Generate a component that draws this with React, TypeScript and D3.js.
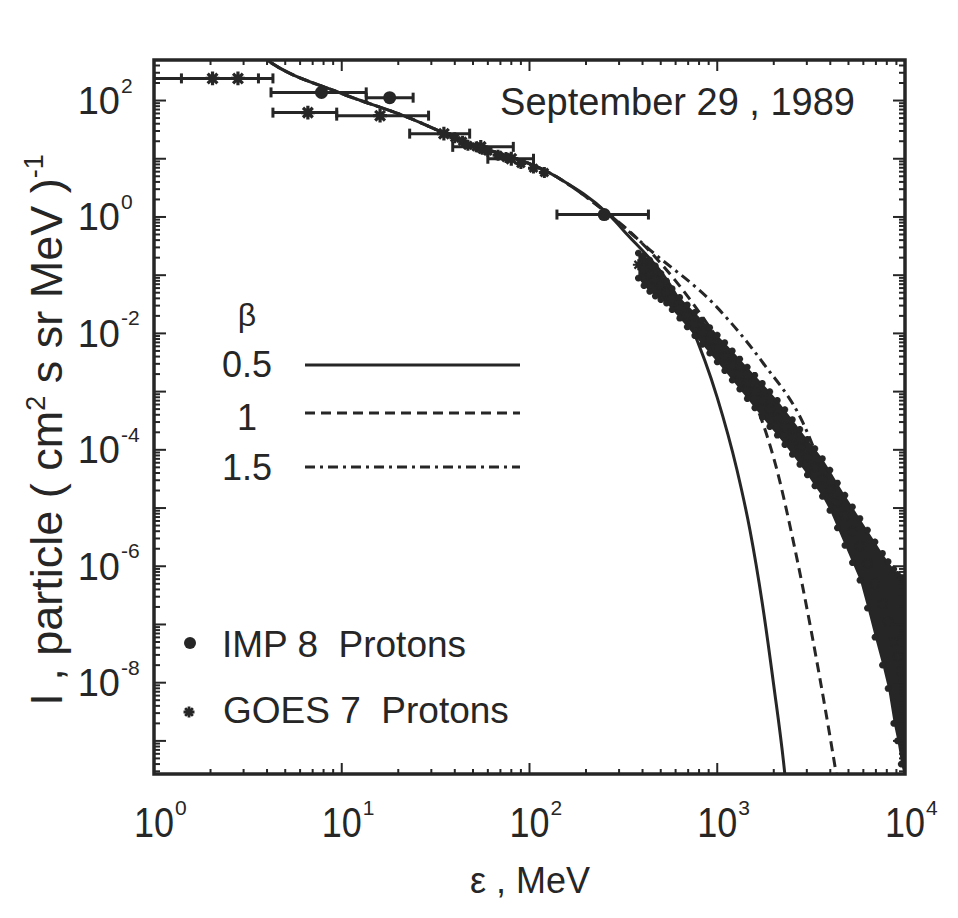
import React from 'react';
import * as d3 from 'd3';

// ---------- data ----------
const xDomain = [1, 1e4];
const yDomain = [2.7e-10, 497];
const xTickExps = [0, 1, 2, 3, 4];
const yTickExps = [2, 0, -2, -4, -6, -8];

// model curves (beta = 0.5, 1, 1.5)
const solidE = [3.6, 4.0, 9.8, 22.3, 42.7, 140, 259, 315, 716, 998, 1274, 1493, 1738, 1995, 2296, 2360];
const solidI = [640, 497, 135, 52, 21, 4.85, 1.17, 0.6, 0.015, 8.05e-4, 4.5e-5, 4.2e-6, 2.3e-7, 9.5e-9, 2.5e-10, 1e-10];
const dashE = [3.6, 4.0, 9.8, 22.3, 42.7, 140, 259, 330, 600, 914, 1493, 2080, 2512, 3162, 3802, 4395];
const dashI = [640, 497, 135, 52, 21, 4.85, 1.17, 0.62, 0.08, 0.0126, 1.07e-3, 4.5e-5, 3.2e-6, 7.9e-8, 2.9e-9, 1.8e-10];
const dotdashE = [3.6, 4.0, 9.8, 22.3, 42.7, 140, 259, 439, 998, 1754, 2864, 3524, 4467, 5623, 7079, 8913, 10000];
const dotdashI = [640, 497, 135, 52, 21, 4.85, 1.17, 0.27, 0.028, 3.1e-3, 2.9e-4, 5.9e-5, 8.9e-6, 1e-6, 1e-7, 6.3e-9, 1.26e-9];

// IMP 8 protons (with energy bands)
const impE = [7.8, 18, 250];
const impI = [138, 112, 1.1];
const impElo = [4.2, 13.5, 140];
const impEhi = [13.5, 24, 430];

// GOES 7 protons, channels with energy bands
const goesE = [2.05, 2.8, 6.6, 16, 35, 55, 80];
const goesI = [240, 240, 62, 55, 27, 16, 10];
const goesElo = [1.0, 1.4, 4.3, 9.4, 23, 39, 60];
const goesEhi = [3.6, 4.3, 9.4, 29, 48, 82, 105];

// GOES 7 additional points along the spectrum
const goesMidE = [40, 44, 47, 52, 56, 60, 68, 75, 90, 105, 120];
const goesMidI = [23, 20, 17, 16, 14.5, 13.5, 11.5, 10.5, 8.3, 6.9, 5.8];

// high-energy GOES 7 points: central value and spread of the point cloud
const cloudE = [380, 407, 437, 468, 501, 537, 575, 631, 692, 759, 832, 912, 1000, 1096, 1202, 1318, 1445, 1585, 1738, 1905, 2089, 2291, 2512, 2754, 3020, 3311, 3631, 3981, 4365, 4786, 5248, 5754, 6310, 6918, 7586, 8128, 8710, 9120, 9550, 9890];
const cloudI = [0.151, 0.126, 0.102, 0.0832, 0.0661, 0.0513, 0.0389, 0.0275, 0.02, 0.0145, 0.0105, 0.00759, 0.0055, 0.00398, 0.00282, 0.002, 0.00141, 1e-3, 7.08e-4, 5.01e-4, 3.55e-4, 2.45e-4, 1.66e-4, 1.12e-4, 7.59e-5, 5.01e-5, 3.16e-5, 2.09e-5, 1.26e-5, 7.41e-6, 3.98e-6, 2.24e-6, 1.12e-6, 5.01e-7, 2.24e-7, 1.12e-7, 5.01e-8, 2.82e-8, 1.58e-8, 1e-8];
const cloudLo = [0.0891, 0.0661, 0.0525, 0.0437, 0.038, 0.0331, 0.0257, 0.0182, 0.0129, 0.00912, 0.00646, 0.00457, 0.00324, 0.00229, 0.00158, 0.0011, 7.59e-4, 5.25e-4, 3.63e-4, 2.51e-4, 1.78e-4, 1.23e-4, 8.32e-5, 5.62e-5, 3.72e-5, 2.4e-5, 1.58e-5, 9.12e-6, 4.57e-6, 2.29e-6, 1.15e-6, 5.75e-7, 1.91e-7, 6.03e-8, 2e-8, 7.94e-9, 2e-9, 1e-9, 3.98e-10, 2.51e-10];
const cloudHi = [0.24, 0.219, 0.182, 0.145, 0.107, 0.0794, 0.0589, 0.0417, 0.0309, 0.0229, 0.017, 0.0126, 0.00933, 0.00692, 0.00501, 0.00363, 0.00263, 0.00191, 0.00138, 1e-3, 7.08e-4, 4.9e-4, 3.31e-4, 2.24e-4, 1.51e-4, 1.05e-4, 7.08e-5, 4.47e-5, 2.69e-5, 1.66e-5, 1.05e-5, 6.61e-6, 4.17e-6, 2.63e-6, 1.66e-6, 1.2e-6, 8.91e-7, 7.24e-7, 6.31e-7, 5.62e-7];

const legendBetas = ['0.5', '1', '1.5'];

// ---------- style ----------
const INK = '#262626';
const FONT = '"Liberation Sans", Arial, Helvetica, sans-serif';
const L = 154, R = 905, T = 60, B = 774;

const asterisk = {
  draw(ctx: any, size: number) {
    const r = Math.sqrt(size) / 2;
    for (let i = 0; i < 4; i++) {
      const a = (i * Math.PI) / 4;
      ctx.moveTo(r * Math.cos(a), r * Math.sin(a));
      ctx.lineTo(-r * Math.cos(a), -r * Math.sin(a));
    }
  },
};

export default function App() {
  const x = d3.scaleLog().domain(xDomain).range([L, R]);
  const y = d3.scaleLog().domain(yDomain).range([B, T]);

  const line = d3
    .line<[number, number]>()
    .x((d) => x(d[0]))
    .y((d) => y(d[1]))
    .curve(d3.curveMonotoneX);

  const band = d3
    .area<number>()
    .x((_, i) => x(cloudE[i]))
    .y0((_, i) => y(cloudLo[i]))
    .y1((_, i) => y(cloudHi[i]));

  const zip = (a: number[], b: number[]) => a.map((v, i) => [v, b[i]] as [number, number]);
  const astBig = d3.symbol().type(asterisk as any).size(190)();
  const astMid = d3.symbol().type(asterisk as any).size(120)();
  const astSmall = d3.symbol().type(asterisk as any).size(45)();

  const xTicks = x.ticks();
  const yTicks = y.ticks(60);
  const isMajor = (v: number) => Math.abs(Math.log10(v) - Math.round(Math.log10(v))) < 1e-6;

  const curves = [
    { d: line(zip(solidE, solidI)), dash: undefined },
    { d: line(zip(dashE, dashI)), dash: '10 6' },
    { d: line(zip(dotdashE, dotdashI)), dash: '10 5 3 5' },
  ];

  return (
    <svg width={958} height={918} style={{ position: 'absolute', left: 0, top: 0, background: '#fff' }}>
      <defs>
        <clipPath id="plot">
          <rect x={L} y={T} width={R - L} height={B - T} />
        </clipPath>
      </defs>
      <rect x={0} y={0} width={958} height={918} fill="#fff" />

      {/* data */}
      <g clipPath="url(#plot)">
        {/* curves */}
        {curves.map((c, i) => (
          <path key={'c' + i} d={c.d!} fill="none" stroke={INK} strokeWidth={3} strokeDasharray={c.dash} />
        ))}

        {/* high-energy point cloud */}
        <path d={band(cloudE)!} fill={INK} />
        {cloudE.map((e, i) => (
          <g key={'ca' + i} stroke={INK} strokeWidth={2.2} fill="none">
            <path d={astMid!} transform={`translate(${x(e)},${y(cloudI[i])})`} />
            <path d={astSmall!} transform={`translate(${x(e)},${y(cloudLo[i])})`} />
            <path d={astSmall!} transform={`translate(${x(e)},${y(cloudHi[i])})`} />
          </g>
        ))}

        {/* GOES channel points */}
        {goesE.map((e, i) => (
          <g key={'g' + i}>
            <line x1={x(goesElo[i])} x2={x(goesEhi[i])} y1={y(goesI[i])} y2={y(goesI[i])} stroke={INK} strokeWidth={3} />
            <line x1={x(goesElo[i])} x2={x(goesElo[i])} y1={y(goesI[i]) - 5} y2={y(goesI[i]) + 5} stroke={INK} strokeWidth={3} />
            <line x1={x(goesEhi[i])} x2={x(goesEhi[i])} y1={y(goesI[i]) - 5} y2={y(goesI[i]) + 5} stroke={INK} strokeWidth={3} />
            <path d={astBig!} transform={`translate(${x(e)},${y(goesI[i])})`} stroke={INK} strokeWidth={3.2} fill="none" />
          </g>
        ))}
        {goesMidE.map((e, i) => (
          <path key={'gm' + i} d={astMid!} transform={`translate(${x(e)},${y(goesMidI[i])})`} stroke={INK} strokeWidth={3} fill="none" />
        ))}

        {/* IMP points */}
        {impE.map((e, i) => (
          <g key={'i' + i}>
            <line x1={x(impElo[i])} x2={x(impEhi[i])} y1={y(impI[i])} y2={y(impI[i])} stroke={INK} strokeWidth={3} />
            <line x1={x(impElo[i])} x2={x(impElo[i])} y1={y(impI[i]) - 5} y2={y(impI[i]) + 5} stroke={INK} strokeWidth={3} />
            <line x1={x(impEhi[i])} x2={x(impEhi[i])} y1={y(impI[i]) - 5} y2={y(impI[i]) + 5} stroke={INK} strokeWidth={3} />
            <circle cx={x(e)} cy={y(impI[i])} r={6.5} fill={INK} />
          </g>
        ))}
      </g>

      {/* ticks */}
      {xTicks.map((v, i) => {
        const len = isMajor(v) ? 11 : 5;
        return (
          <g key={'xt' + i}>
            <line x1={x(v)} x2={x(v)} y1={B} y2={B - len} stroke={INK} strokeWidth={2} />
            <line x1={x(v)} x2={x(v)} y1={T} y2={T + len} stroke={INK} strokeWidth={2} />
          </g>
        );
      })}
      {yTicks.map((v, i) => {
        const len = isMajor(v) ? 12 : 6;
        return (
          <g key={'yt' + i}>
            <line x1={L} x2={L + len} y1={y(v)} y2={y(v)} stroke={INK} strokeWidth={2} />
            <line x1={R} x2={R - len} y1={y(v)} y2={y(v)} stroke={INK} strokeWidth={2} />
          </g>
        );
      })}

      {/* frame */}
      <rect x={L} y={T} width={R - L} height={B - T} fill="none" stroke={INK} strokeWidth={3.5} />

      {/* x tick labels */}
      {xTickExps.map((k) => {
        const px = x(Math.pow(10, k));
        return (
          <g key={'xl' + k} fill={INK} fontFamily={FONT}>
            <text x={px} y={837} textAnchor="middle" fontSize={36} transform={`translate(0,${837 * -0.2}) scale(1,1.2)`}>10</text>
            <text x={px + 21} y={815} fontSize={21}>{k}</text>
          </g>
        );
      })}

      {/* y tick labels */}
      {yTickExps.map((k) => {
        const py = y(Math.pow(10, k));
        return (
          <g key={'yl' + k} fill={INK} fontFamily={FONT}>
            <text x={120} y={py + 13.5} textAnchor="end" fontSize={38}>10</text>
            <text x={121} y={py - 8} fontSize={21}>{k}</text>
          </g>
        );
      })}

      {/* axis titles */}
      <text x={530} y={893} textAnchor="middle" fontSize={36} fontFamily={FONT} fill={INK}>ε , MeV</text>
      <text transform="translate(62,430) rotate(-90)" textAnchor="middle" fontSize={45} fontFamily={FONT} fill={INK} style={{ whiteSpace: 'pre' }}>
        {'I , particle ( cm'}
        <tspan dy={-17} fontSize={27}>2</tspan>
        <tspan dy={17}>{' s sr MeV )'}</tspan>
        <tspan dy={-19} fontSize={27}>-1</tspan>
      </text>

      {/* title */}
      <text x={855} y={115} textAnchor="end" fontSize={38} fontFamily={FONT} fill={INK}>September 29 , 1989</text>

      {/* beta legend */}
      <text x={247} y={326} textAnchor="middle" fontSize={32} fontFamily={FONT} fill={INK}>β</text>
      {legendBetas.map((b, i) => {
        const ly = [365, 413, 467][i];
        const ty = [377, 430, 480][i];
        return (
          <g key={'lb' + i}>
            <text x={247} y={ty} textAnchor="middle" fontSize={36} fontFamily={FONT} fill={INK}>{b}</text>
            <line x1={305} x2={520} y1={ly} y2={ly} stroke={INK} strokeWidth={3} strokeDasharray={curves[i].dash} />
          </g>
        );
      })}

      {/* data legend */}
      <circle cx={190} cy={643} r={6} fill={INK} />
      <text x={222} y={657} fontSize={37} fontFamily={FONT} fill={INK} style={{ whiteSpace: 'pre' }}>{'IMP 8  Protons'}</text>
      <path d={astMid!} transform="translate(189,712)" stroke={INK} strokeWidth={2.8} fill="none" />
      <text x={223} y={723} fontSize={37} fontFamily={FONT} fill={INK} style={{ whiteSpace: 'pre' }}>{'GOES 7  Protons'}</text>
    </svg>
  );
}
